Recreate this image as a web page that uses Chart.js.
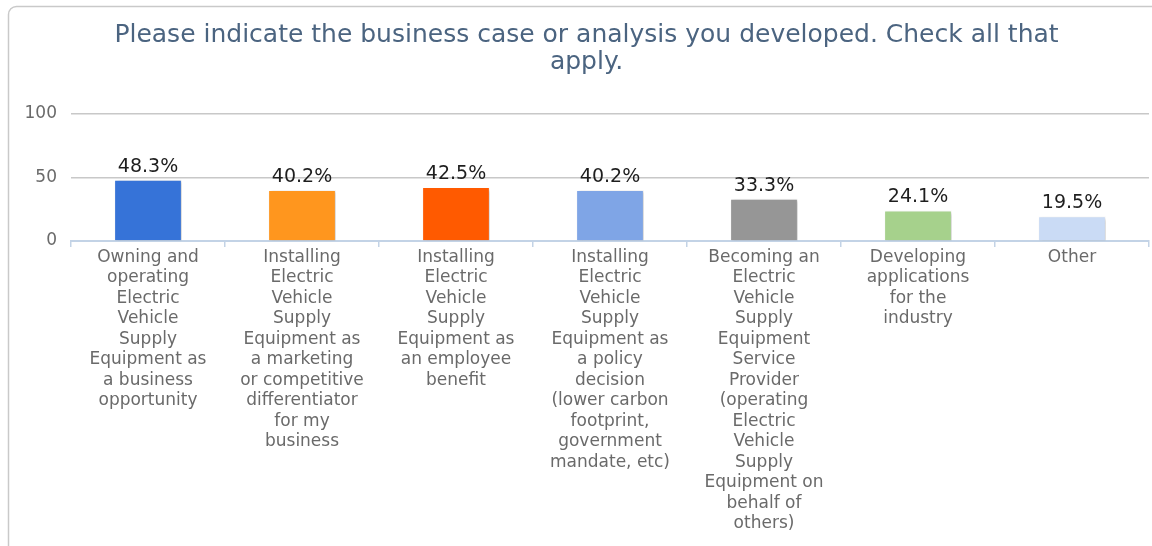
<!DOCTYPE html>
<html>
<head>
<meta charset="utf-8">
<script src="https://cdn.jsdelivr.net/npm/chart.js@4/dist/chart.umd.min.js"></script>
<style>
  html, body { margin: 0; padding: 0; background: #ffffff; }
  #wrap { width: 1152px; height: 546px; }
</style>
</head>
<body>
<div id="wrap"><canvas id="c" width="1152" height="546"></canvas></div>
<script>
// Survey question and answer options
const titleLines = [
  'Please indicate the business case or analysis you developed. Check all that',
  'apply.'
];
const categories = [
  ['Owning and', 'operating', 'Electric', 'Vehicle', 'Supply', 'Equipment as', 'a business', 'opportunity'],
  ['Installing', 'Electric', 'Vehicle', 'Supply', 'Equipment as', 'a marketing', 'or competitive', 'differentiator', 'for my', 'business'],
  ['Installing', 'Electric', 'Vehicle', 'Supply', 'Equipment as', 'an employee', 'benefit'],
  ['Installing', 'Electric', 'Vehicle', 'Supply', 'Equipment as', 'a policy', 'decision', '(lower carbon', 'footprint,', 'government', 'mandate, etc)'],
  ['Becoming an', 'Electric', 'Vehicle', 'Supply', 'Equipment', 'Service', 'Provider', '(operating', 'Electric', 'Vehicle', 'Supply', 'Equipment on', 'behalf of', 'others)'],
  ['Developing', 'applications', 'for the', 'industry'],
  ['Other']
];
// Share of respondents (%)
const percentages = [48.3, 40.2, 42.5, 40.2, 33.3, 24.1, 19.5];
const yTicks = [0, 50, 100];
const barColors = ['#3673D8', '#FF961E', '#FF5A00', '#7FA5E6', '#969696', '#A6D18C', '#CADBF5'];

const FONT = '"DejaVu Sans", "Liberation Sans", sans-serif';

// Rounded frame around the chart
const framePlugin = {
  id: 'frame',
  beforeDraw(chart) {
    const ctx = chart.ctx;
    ctx.save();
    ctx.fillStyle = '#ffffff';
    ctx.fillRect(0, 0, chart.width, chart.height);
    ctx.strokeStyle = '#c9c9c9';
    ctx.lineWidth = 1.5;
    ctx.beginPath();
    ctx.roundRect(8.5, 6.5, 1300, 700, 8);
    ctx.stroke();
    ctx.restore();
  }
};

// Soft drop shadow under the bars
const shadowPlugin = {
  id: 'barShadow',
  beforeDatasetsDraw(chart) {
    const ctx = chart.ctx;
    ctx.save();
    ctx.shadowColor = 'rgba(0,0,0,0.28)';
    ctx.shadowBlur = 3;
    ctx.shadowOffsetX = 1.5;
    ctx.shadowOffsetY = 1.5;
  },
  afterDatasetsDraw(chart) {
    chart.ctx.restore();
  }
};

// Percentage labels above each bar
const valueLabelPlugin = {
  id: 'valueLabels',
  afterDatasetsDraw(chart) {
    const ctx = chart.ctx;
    const meta = chart.getDatasetMeta(0);
    ctx.save();
    ctx.font = '19px ' + FONT;
    ctx.fillStyle = '#1e1e1e';
    ctx.textAlign = 'center';
    ctx.textBaseline = 'alphabetic';
    meta.data.forEach((bar, i) => {
      const v = chart.data.datasets[0].data[i];
      ctx.fillText(v.toFixed(1) + '%', bar.x, bar.y - 8);
    });
    ctx.restore();
  }
};

new Chart(document.getElementById('c'), {
  type: 'bar',
  data: {
    labels: categories,
    datasets: [{
      data: percentages,
      backgroundColor: barColors,
      borderColor: '#ffffff',
      borderWidth: 1,
      barPercentage: 0.44,
      categoryPercentage: 1.0
    }]
  },
  options: {
    responsive: false,
    animation: false,
    devicePixelRatio: 1,
    layout: { padding: { left: 24, right: 3, top: 0, bottom: 0 } },
    plugins: {
      legend: { display: false },
      tooltip: { enabled: false },
      title: {
        display: true,
        text: titleLines,
        color: '#4b6480',
        font: { family: FONT, size: 25, weight: 'normal', lineHeight: 27 / 25 },
        padding: { top: 21.5, bottom: 38.5 }
      }
    },
    scales: {
      x: {
        offset: true,
        grid: {
          offset: true,
          drawOnChartArea: false,
          drawTicks: true,
          tickLength: 6,
          color: '#c3d3e6',
          lineWidth: 1.5
        },
        border: { display: true, color: '#c3d3e6', width: 2 },
        ticks: {
          autoSkip: false,
          maxRotation: 0,
          minRotation: 0,
          padding: 0,
          color: '#6a6a6a',
          font: { family: FONT, size: 17, lineHeight: 20.5 / 17 }
        },
        afterFit(scale) { scale.height = 305; }
      },
      y: {
        min: 0,
        max: 100,
        afterBuildTicks(scale) { scale.ticks = yTicks.map(v => ({ value: v })); },
        grid: {
          drawTicks: false,
          color: ctx => (ctx.tick && ctx.tick.value === 0) ? 'rgba(0,0,0,0)' : '#c8c8c8',
          lineWidth: 1.5
        },
        border: { display: false },
        ticks: {
          padding: 14,
          color: '#6a6a6a',
          font: { family: FONT, size: 17 }
        },
        afterFit(scale) { scale.width = 47; }
      }
    }
  },
  plugins: [framePlugin, shadowPlugin, valueLabelPlugin]
});
</script>
</body>
</html>
